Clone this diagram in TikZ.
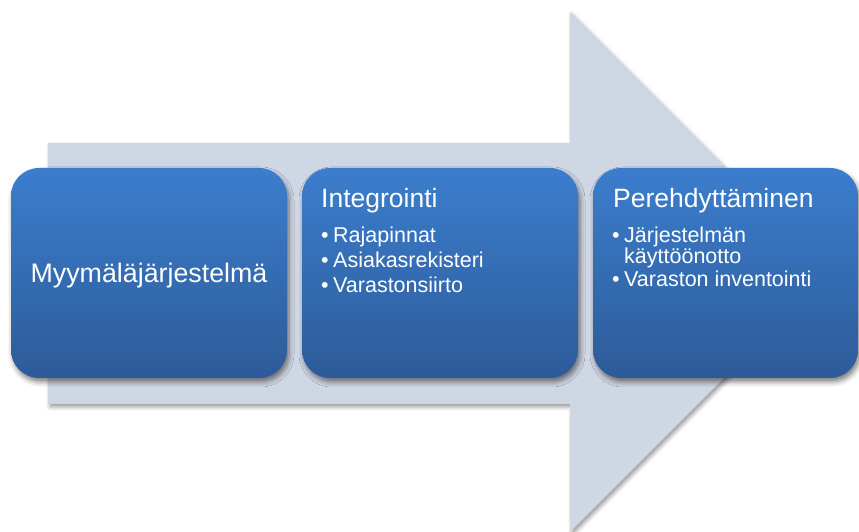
\documentclass[tikz,border=0pt]{standalone}
\usepackage{fontspec}
\setmainfont{Liberation Sans}
\usetikzlibrary{shadows.blur}
\definecolor{arrowfill}{RGB}{207,214,228}
\definecolor{boxtop}{RGB}{59,126,205}
\definecolor{boxbot}{RGB}{45,91,153}
\tikzset{
  stagebox/.style={rounded corners=28pt, top color=boxtop, bottom color=boxbot,
    blur shadow={shadow xshift=2pt, shadow yshift=-4pt, shadow opacity=50, shadow blur radius=5pt}},
  bigarrow/.style={fill=arrowfill,
    blur shadow={shadow xshift=2pt, shadow yshift=-3pt, shadow opacity=40, shadow blur radius=4pt}},
  titletext/.style={text=white, inner sep=0pt, anchor=base west, font=\fontsize{26.5}{30}\selectfont},
  centertext/.style={text=white, inner sep=0pt, anchor=base, font=\fontsize{26.8}{30}\selectfont},
  itemtext/.style={text=white, inner sep=0pt, anchor=base west, font=\fontsize{21.5}{24}\selectfont},
}
\begin{document}
\begin{tikzpicture}[x=1pt,y=1pt]
\useasboundingbox (0,0) rectangle (859,532);
% big arrow
\path[bigarrow] (48,389) -- (570,389) -- (570,520) -- (830,260) -- (570,0) -- (570,128) -- (48,128) -- cycle;
% boxes
\path[stagebox] (11,154) rectangle (287,364);
\path[stagebox] (302,154) rectangle (578,364);
\path[stagebox] (593,154) rectangle (858,364);
% box 1
\node[centertext] (t1) at (149,249) {Myymäläjärjestelmä};
% box 2
\node[titletext] (t2) at (321,324) {Integrointi};
\node[itemtext] (b21) at (321,289) {•};
\node[itemtext] (i21) at (333,289) {Rajapinnat};
\node[itemtext] (b22) at (321,264) {•};
\node[itemtext] (i22) at (333,264) {Asiakasrekisteri};
\node[itemtext] (b23) at (321,239) {•};
\node[itemtext] (i23) at (333,239) {Varastonsiirto};
% box 3
\node[titletext] (t3) at (613,324) {Perehdyttäminen};
\node[itemtext] (b31) at (612,289) {•};
\node[itemtext] (i31) at (624,289) {Järjestelmän};
\node[itemtext] (i31b) at (624,268) {käyttöönotto};
\node[itemtext] (b32) at (612,245) {•};
\node[itemtext] (i32) at (624,245) {Varaston inventointi};
\end{tikzpicture}
\end{document}
